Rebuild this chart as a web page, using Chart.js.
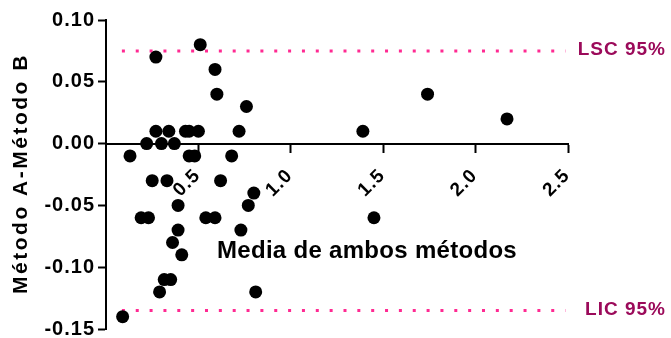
<!DOCTYPE html>
<html>
<head>
<meta charset="utf-8">
<script src="https://cdn.jsdelivr.net/npm/chart.js@4.4.1/dist/chart.umd.min.js"></script>
<style>
  html, body { margin: 0; padding: 0; background: #fff; }
  #wrap { width: 671px; height: 338px; }
</style>
</head>
<body>
<div id="wrap"><canvas id="baChart"></canvas></div>
<script>
// Bland-Altman: mean of both methods vs. difference A - B
const meanValues = [
  0.27, 0.51, 0.59, 0.60, 0.76, 0.72,
  0.27, 0.34, 0.43, 0.45, 0.50,
  0.22, 0.30, 0.37,
  0.13, 0.45, 0.48, 0.68,
  0.25, 0.33, 0.62,
  0.80, 0.77, 0.39,
  0.19, 0.23, 0.54, 0.59,
  0.39, 0.73, 0.36, 0.41,
  0.315, 0.35, 0.29, 0.81, 0.09,
  1.39, 1.74, 2.17, 1.45
];
const diffValues = [
  0.07, 0.08, 0.06, 0.04, 0.03, 0.01,
  0.01, 0.01, 0.01, 0.01, 0.01,
  0.00, 0.00, 0.00,
  -0.01, -0.01, -0.01, -0.01,
  -0.03, -0.03, -0.03,
  -0.04, -0.05, -0.05,
  -0.06, -0.06, -0.06, -0.06,
  -0.07, -0.07, -0.08, -0.09,
  -0.11, -0.11, -0.12, -0.12, -0.14,
  0.01, 0.04, 0.02, -0.06
];

const upperLimit = 0.075;   // LSC 95%
const lowerLimit = -0.135;  // LIC 95%
const limitSpan = [0.086, 2.486];

const xTicks = [0.5, 1.0, 1.5, 2.0, 2.5];
const yTicks = [-0.15, -0.10, -0.05, 0.00, 0.05, 0.10];

const xTitle = "Media de ambos métodos";
const yTitle = "Método A-Método B";
const upperLabel = "LSC 95%";
const lowerLabel = "LIC 95%";

const FONT = '"Liberation Sans", Arial, sans-serif';
const limitDots = "#ff2a92";
const limitText = "#9b0a5a";

const points = meanValues.map((x, i) => ({ x, y: diffValues[i] }));
const limitLine = (v) => limitSpan.map((x) => ({ x, y: v }));

const textLayer = {
  id: "textLayer",
  beforeDraw(chart) {
    chart.ctx.letterSpacing = "1px";
  },
  afterDraw(chart) {
    const { ctx, chartArea, scales } = chart;
    ctx.save();
    ctx.fillStyle = "#000";

    // x title sits well below the axis, inside the plot
    ctx.letterSpacing = "0.3px";
    ctx.font = "bold 24px " + FONT;
    ctx.textAlign = "left";
    ctx.textBaseline = "alphabetic";
    ctx.fillText(xTitle, chartArea.left + 111, 258);

    // rotated y title
    ctx.save();
    ctx.letterSpacing = "2.5px";
    ctx.font = "bold 21px " + FONT;
    ctx.translate(27, (chartArea.top + chartArea.bottom) / 2 - 1);
    ctx.rotate(-Math.PI / 2);
    ctx.textAlign = "center";
    ctx.fillText(yTitle, 0, 0);
    ctx.restore();

    // limit labels at the right end of the dotted lines
    ctx.letterSpacing = "1px";
    ctx.font = "bold 19px " + FONT;
    ctx.fillStyle = limitText;
    ctx.textAlign = "right";
    ctx.fillText(upperLabel, chart.width - 5, scales.y.getPixelForValue(upperLimit) + 4);
    ctx.fillText(lowerLabel, chart.width - 5, scales.y.getPixelForValue(lowerLimit) + 5);
    ctx.restore();
  }
};

new Chart(document.getElementById("baChart"), {
  type: "scatter",
  data: {
    datasets: [
      {
        label: "Diferencias",
        data: points,
        backgroundColor: "#000",
        borderColor: "#000",
        borderWidth: 0,
        pointRadius: 6.5,
        pointHoverRadius: 6.5,
      },
      {
        label: upperLabel,
        type: "line",
        data: limitLine(upperLimit),
        borderColor: limitDots,
        borderWidth: 3,
        borderDash: [3, 10.85],
        pointRadius: 0,
      },
      {
        label: lowerLabel,
        type: "line",
        data: limitLine(lowerLimit),
        borderColor: limitDots,
        borderWidth: 3,
        borderDash: [3, 10.85],
        pointRadius: 0,
      },
    ],
  },
  options: {
    responsive: true,
    maintainAspectRatio: false,
    animation: false,
    layout: { padding: { left: 0, top: 20, right: 103, bottom: 9 } },
    plugins: {
      legend: { display: false },
      tooltip: { enabled: false },
    },
    scales: {
      x: {
        type: "linear",
        min: 0,
        max: 2.5,
        position: { y: 0 },
        afterBuildTicks: (s) => { s.ticks = xTicks.map((value) => ({ value })); },
        afterFit: (s) => { s.paddingLeft = 0; s.paddingRight = 0; },
        border: { display: true, color: "#000", width: 2 },
        grid: {
          drawOnChartArea: false,
          drawTicks: true,
          tickLength: 8,
          tickWidth: 2,
          tickColor: "#000",
        },
        ticks: {
          color: "#000",
          font: { family: FONT, size: 19, weight: "bold" },
          minRotation: 45,
          maxRotation: 45,
          padding: 13,
          labelOffset: -1,
          callback: (v) => Number(v).toFixed(1),
        },
      },
      y: {
        type: "linear",
        min: -0.15,
        max: 0.10,
        afterBuildTicks: (s) => { s.ticks = yTicks.map((value) => ({ value })); },
        afterFit: (s) => { s.width = 106; s.paddingTop = 0; s.paddingBottom = 0; },
        border: { display: true, color: "#000", width: 2 },
        grid: {
          drawOnChartArea: false,
          drawTicks: true,
          tickLength: 8,
          tickWidth: 2,
          tickColor: "#000",
        },
        ticks: {
          color: "#000",
          font: { family: FONT, size: 20, weight: "bold", lineHeight: 1 },
          padding: 3,
          callback: (v) => Number(v).toFixed(2),
        },
      },
    },
  },
  plugins: [textLayer],
});
</script>
</body>
</html>
